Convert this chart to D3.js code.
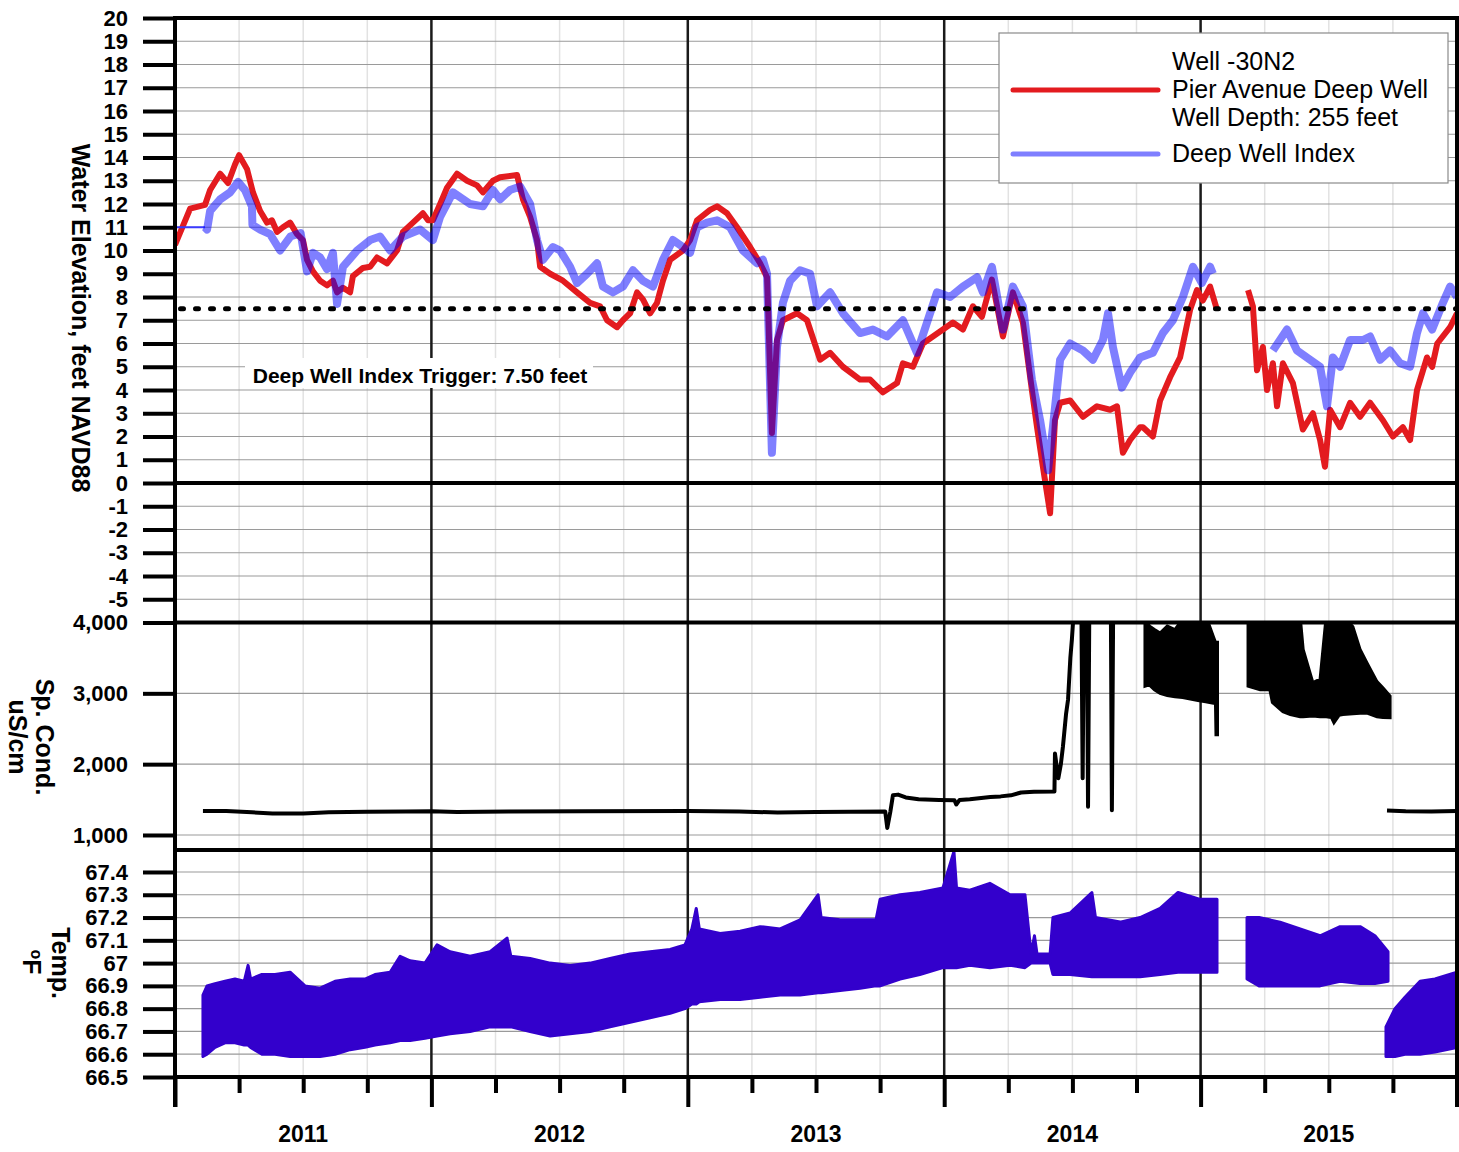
<!DOCTYPE html>
<html>
<head>
<meta charset="utf-8">
<script src="https://cdn.jsdelivr.net/npm/d3@7"></script>
<style>
  body { margin: 0; background: #fff; }
  svg { display: block; font-family: "Liberation Sans", Arial, sans-serif; }
</style>
</head>
<body>
<script>
// ---- data (decimal year, value) ----
const pierAvenue = [
  [2011.000, 10.24], [2011.059, 11.8], [2011.117, 11.96], [2011.137, 12.6], [2011.176, 13.3], [2011.207, 12.9],
  [2011.234, 13.7], [2011.250, 14.1], [2011.281, 13.5], [2011.304, 12.5], [2011.332, 11.7], [2011.359, 11.2],
  [2011.378, 11.3], [2011.398, 10.8], [2011.421, 11.0], [2011.449, 11.2], [2011.476, 10.7], [2011.499, 10.45],
  [2011.515, 9.6], [2011.538, 9.1], [2011.566, 8.7], [2011.593, 8.5], [2011.616, 8.7], [2011.632, 8.2],
  [2011.655, 8.4], [2011.683, 8.2], [2011.694, 8.9], [2011.733, 9.25], [2011.761, 9.3], [2011.788, 9.7],
  [2011.827, 9.45], [2011.866, 10.0], [2011.889, 10.8], [2011.928, 11.2], [2011.967, 11.6], [2011.987, 11.3],
  [2012.006, 11.3], [2012.034, 12.0], [2012.061, 12.7], [2012.100, 13.3], [2012.139, 13.0], [2012.178, 12.8],
  [2012.201, 12.5], [2012.240, 13.0], [2012.268, 13.15], [2012.334, 13.25], [2012.357, 12.2], [2012.385, 11.45],
  [2012.412, 10.45], [2012.424, 9.3], [2012.463, 9.0], [2012.513, 8.7], [2012.568, 8.2], [2012.619, 7.75],
  [2012.658, 7.6], [2012.685, 7.0], [2012.724, 6.7], [2012.747, 7.0], [2012.775, 7.3], [2012.802, 8.2],
  [2012.825, 7.9], [2012.853, 7.3], [2012.880, 7.75], [2012.903, 8.7], [2012.931, 9.6], [2012.981, 10.0],
  [2013.009, 10.45], [2013.036, 11.3], [2013.087, 11.75], [2013.114, 11.9], [2013.153, 11.6], [2013.192, 11.0],
  [2013.243, 10.15], [2013.282, 9.45], [2013.309, 8.85], [2013.313, 7.6], [2013.328, 2.15], [2013.348, 6.15],
  [2013.371, 7.0], [2013.426, 7.3], [2013.465, 7.0], [2013.516, 5.3], [2013.555, 5.6], [2013.605, 5.0],
  [2013.672, 4.45], [2013.711, 4.45], [2013.761, 3.9], [2013.816, 4.3], [2013.839, 5.15], [2013.878, 5.0],
  [2013.917, 6.0], [2013.956, 6.3], [2013.995, 6.6], [2014.034, 6.9], [2014.073, 6.6], [2014.112, 7.6],
  [2014.147, 7.15], [2014.186, 8.75], [2014.229, 6.3], [2014.268, 8.2], [2014.307, 6.9], [2014.342, 4.0],
  [2014.362, 2.4], [2014.385, 0.7], [2014.413, -1.3], [2014.432, 2.7], [2014.452, 3.45], [2014.491, 3.55],
  [2014.541, 2.85], [2014.596, 3.3], [2014.647, 3.15], [2014.674, 3.3], [2014.697, 1.3], [2014.725, 1.85],
  [2014.764, 2.4], [2014.775, 2.4], [2014.814, 2.0], [2014.842, 3.55], [2014.881, 4.55], [2014.920, 5.4],
  [2014.959, 7.45], [2014.986, 8.3], [2015.009, 7.85], [2015.037, 8.45], [2015.064, 7.45],
  null,
  [2015.185, 8.3], [2015.204, 7.6], [2015.220, 4.85], [2015.243, 5.85], [2015.259, 4.0], [2015.282, 5.15],
  [2015.298, 3.3], [2015.321, 5.15], [2015.360, 4.3], [2015.399, 2.3], [2015.438, 3.0], [2015.466, 1.85],
  [2015.485, 0.7], [2015.505, 3.15], [2015.544, 2.4], [2015.583, 3.45], [2015.622, 2.85], [2015.661, 3.45],
  [2015.711, 2.7], [2015.750, 2.0], [2015.789, 2.4], [2015.817, 1.85], [2015.844, 4.0], [2015.883, 5.4],
  [2015.903, 5.0], [2015.923, 6.0], [2015.973, 6.7], [2016.000, 7.3]
];

// first two points are the thin fill-in at the start of the record
const deepWellIndex = [
  [2011.000, 11.0], [2011.117, 11.0], [2011.125, 10.9], [2011.137, 11.7], [2011.176, 12.2], [2011.215, 12.5],
  [2011.246, 12.95], [2011.273, 12.6], [2011.300, 11.9], [2011.302, 11.1], [2011.332, 10.9], [2011.371, 10.7],
  [2011.410, 10.0], [2011.450, 10.6], [2011.490, 10.75], [2011.515, 9.1], [2011.538, 9.9], [2011.566, 9.7],
  [2011.593, 9.2], [2011.616, 9.9], [2011.632, 7.7], [2011.655, 9.3], [2011.710, 10.0], [2011.761, 10.45],
  [2011.800, 10.6], [2011.839, 10.0], [2011.889, 10.6], [2011.956, 10.9], [2012.006, 10.45], [2012.034, 11.45],
  [2012.084, 12.5], [2012.151, 12.0], [2012.201, 11.9], [2012.240, 12.6], [2012.268, 12.2], [2012.307, 12.6],
  [2012.346, 12.75], [2012.385, 12.0], [2012.412, 10.45], [2012.435, 9.6], [2012.474, 10.15], [2012.502, 10.0],
  [2012.541, 9.3], [2012.568, 8.6], [2012.607, 9.0], [2012.646, 9.45], [2012.669, 8.45], [2012.708, 8.2],
  [2012.747, 8.45], [2012.786, 9.15], [2012.825, 8.7], [2012.864, 8.45], [2012.903, 9.6], [2012.942, 10.45],
  [2012.981, 10.15], [2013.009, 9.9], [2013.036, 11.0], [2013.075, 11.2], [2013.114, 11.3], [2013.165, 11.0],
  [2013.215, 10.0], [2013.270, 9.45], [2013.293, 9.6], [2013.309, 9.0], [2013.328, 1.3], [2013.348, 5.85],
  [2013.371, 7.75], [2013.399, 8.7], [2013.438, 9.15], [2013.477, 9.0], [2013.504, 7.6], [2013.555, 8.2],
  [2013.605, 7.3], [2013.672, 6.45], [2013.722, 6.6], [2013.777, 6.3], [2013.839, 7.0], [2013.894, 5.6],
  [2013.933, 6.9], [2013.972, 8.2], [2014.023, 8.0], [2014.073, 8.45], [2014.128, 8.85], [2014.151, 8.2],
  [2014.186, 9.3], [2014.229, 6.6], [2014.268, 8.45], [2014.307, 7.6], [2014.342, 4.45], [2014.374, 2.7],
  [2014.405, 0.55], [2014.424, 2.4], [2014.452, 5.3], [2014.491, 6.0], [2014.541, 5.7], [2014.580, 5.3],
  [2014.619, 6.15], [2014.639, 7.3], [2014.658, 5.85], [2014.693, 4.1], [2014.725, 4.75], [2014.764, 5.4],
  [2014.814, 5.6], [2014.853, 6.45], [2014.892, 7.0], [2014.931, 8.0], [2014.970, 9.3], [2015.005, 8.6],
  [2015.037, 9.3], [2015.048, 9.0],
  null,
  [2015.282, 5.7], [2015.337, 6.6], [2015.376, 5.7], [2015.427, 5.3], [2015.466, 5.0], [2015.493, 3.3],
  [2015.516, 5.4], [2015.544, 5.0], [2015.583, 6.15], [2015.633, 6.15], [2015.661, 6.3], [2015.700, 5.3],
  [2015.739, 5.7], [2015.778, 5.15], [2015.817, 5.0], [2015.844, 6.45], [2015.867, 7.3], [2015.903, 6.6],
  [2015.945, 7.75], [2015.973, 8.45], [2016.000, 8.0]
];

const triggerLevel = 7.5;

// specific conductance, uS/cm
const condLine = [
  [2011.109, 1340], [2011.200, 1338], [2011.300, 1320], [2011.380, 1305], [2011.500, 1305], [2011.600, 1322],
  [2011.750, 1328], [2011.900, 1330], [2012.000, 1335], [2012.100, 1325], [2012.300, 1330], [2012.600, 1335],
  [2013.000, 1338], [2013.200, 1330], [2013.350, 1318], [2013.500, 1325], [2013.770, 1330], [2013.778, 1100],
  [2013.790, 1330], [2013.800, 1560], [2013.820, 1570], [2013.850, 1530], [2013.900, 1505], [2013.980, 1495],
  [2014.040, 1490], [2014.047, 1430], [2014.060, 1495], [2014.100, 1505], [2014.180, 1535], [2014.220, 1545],
  [2014.260, 1560], [2014.300, 1600], [2014.350, 1610], [2014.430, 1615], [2014.432, 2150], [2014.445, 1800],
  [2014.455, 2000], [2014.463, 2245], [2014.475, 2700], [2014.483, 2910], [2014.492, 3500], [2014.498, 3760],
  [2014.506, 4200], [2014.535, 4200], [2014.540, 1800], [2014.545, 4200], [2014.556, 4200], [2014.561, 1400],
  [2014.566, 4200], [2014.650, 4200], [2014.654, 1350], [2014.659, 4200], [2014.666, 4200],
  null,
  [2015.727, 1345], [2015.800, 1335], [2015.900, 1333], [2016.000, 1340]
];

// noisy stretches of conductance: [year, low, high]
const condBand = [
  [2014.783, 3100, 4100], [2014.800, 3120, 3950], [2014.820, 3050, 3900], [2014.842, 3000, 3850],
  [2014.870, 2970, 3950], [2014.900, 2950, 3900], [2014.930, 2940, 4050], [2014.960, 2920, 3950],
  [2014.990, 2900, 4100], [2015.020, 2880, 4100], [2015.050, 2860, 3800], [2015.058, 2860, 3720],
  [2015.060, 2415, 3720], [2015.066, 2415, 3720],
  null,
  [2015.185, 3100, 4100], [2015.232, 3050, 4100], [2015.270, 3050, 4100], [2015.280, 2870, 4100],
  [2015.321, 2740, 4100], [2015.350, 2700, 4100], [2015.388, 2670, 4100], [2015.400, 2670, 3620],
  [2015.438, 2680, 3150], [2015.466, 2670, 3200], [2015.490, 2670, 4100], [2015.510, 2660, 4100],
  [2015.520, 2585, 4100], [2015.540, 2690, 4100], [2015.555, 2700, 4100], [2015.594, 2710, 3940],
  [2015.622, 2720, 3620], [2015.649, 2720, 3430], [2015.688, 2670, 3165], [2015.711, 2660, 3080],
  [2015.739, 2655, 2960]
];

// water temperature range, deg F: [year, low, high]
const tempBand = [
  [2011.109, 66.59, 66.86], [2011.125, 66.60, 66.90], [2011.156, 66.63, 66.91], [2011.195, 66.65, 66.92],
  [2011.234, 66.65, 66.93], [2011.270, 66.64, 66.92], [2011.285, 66.64, 66.99], [2011.295, 66.63, 66.93],
  [2011.339, 66.60, 66.95], [2011.390, 66.60, 66.95], [2011.449, 66.59, 66.96], [2011.507, 66.59, 66.90],
  [2011.566, 66.59, 66.89], [2011.624, 66.60, 66.92], [2011.683, 66.62, 66.93], [2011.741, 66.63, 66.93],
  [2011.780, 66.64, 66.95], [2011.839, 66.65, 66.96], [2011.878, 66.66, 67.03], [2011.917, 66.66, 67.01],
  [2011.975, 66.67, 67.00], [2012.022, 66.68, 67.08], [2012.073, 66.69, 67.05], [2012.151, 66.70, 67.03],
  [2012.229, 66.72, 67.05], [2012.295, 66.72, 67.11], [2012.310, 66.72, 67.03], [2012.385, 66.70, 67.02],
  [2012.463, 66.68, 67.00], [2012.541, 66.69, 66.99], [2012.619, 66.70, 67.00], [2012.697, 66.72, 67.02],
  [2012.775, 66.74, 67.04], [2012.853, 66.76, 67.05], [2012.931, 66.78, 67.06], [2012.989, 66.80, 67.08],
  [2013.016, 66.82, 67.15], [2013.033, 66.82, 67.24], [2013.045, 66.83, 67.15], [2013.126, 66.84, 67.13],
  [2013.204, 66.84, 67.14], [2013.282, 66.85, 67.16], [2013.360, 66.86, 67.15], [2013.438, 66.86, 67.19],
  [2013.508, 66.87, 67.30], [2013.520, 66.87, 67.20], [2013.594, 66.88, 67.19], [2013.672, 66.89, 67.19],
  [2013.734, 66.90, 67.19], [2013.750, 66.90, 67.28], [2013.828, 66.93, 67.30], [2013.905, 66.95, 67.31],
  [2013.995, 66.98, 67.33], [2014.038, 66.98, 67.49], [2014.048, 66.98, 67.33], [2014.100, 66.99, 67.32],
  [2014.178, 66.98, 67.35], [2014.257, 66.99, 67.30], [2014.315, 66.98, 67.30], [2014.339, 67.00, 67.04],
  [2014.352, 67.00, 67.12], [2014.362, 67.00, 67.04], [2014.413, 67.00, 67.04], [2014.424, 66.95, 67.20],
  [2014.491, 66.95, 67.22], [2014.576, 66.94, 67.31], [2014.590, 66.94, 67.20], [2014.686, 66.94, 67.18],
  [2014.764, 66.94, 67.20], [2014.842, 66.95, 67.24], [2014.912, 66.96, 67.31], [2014.998, 66.96, 67.28],
  [2015.064, 66.96, 67.28],
  null,
  [2015.181, 66.93, 67.20], [2015.228, 66.90, 67.20], [2015.310, 66.90, 67.18], [2015.388, 66.90, 67.15],
  [2015.466, 66.90, 67.12], [2015.544, 66.92, 67.16], [2015.622, 66.91, 67.16], [2015.680, 66.91, 67.12],
  [2015.731, 66.92, 67.05],
  null,
  [2015.723, 66.59, 66.72], [2015.758, 66.59, 66.80], [2015.797, 66.60, 66.85], [2015.856, 66.60, 66.92],
  [2015.914, 66.61, 66.93], [2016.000, 66.63, 66.96]
];

const elevTicks = d3.range(-5, 21);
const condTicks = [1000, 2000, 3000, 4000];
const tempTicks = [66.5, 66.6, 66.7, 66.8, 66.9, 67, 67.1, 67.2, 67.3, 67.4];
const yearLabels = [2011, 2012, 2013, 2014, 2015];

// ---- layout ----
const W = 1459, H = 1152;
const plotLeft = 175, plotRight = 1457;
const plotTop = 18, elevBottom = 622.5, condBottom = 850, plotBottom = 1077;

const svg = d3.select("body").append("svg")
  .attr("width", W)
  .attr("height", H);
svg.append("rect").attr("width", W).attr("height", H).attr("fill", "#fff");

const x = d3.scaleLinear().domain([2011, 2016]).range([plotLeft, plotRight]);
const yElev = d3.scaleLinear().domain([-6, 20]).range([elevBottom, plotTop]);
const yCond = d3.scaleLinear().domain([788, 4000]).range([condBottom, elevBottom]);
const yTemp = d3.scaleLinear().domain([66.5, 67.5]).range([plotBottom, 849.2]);

const defs = svg.append("defs");
function clip(id, y0, y1) {
  defs.append("clipPath").attr("id", id)
    .append("rect").attr("x", plotLeft).attr("y", y0).attr("width", plotRight - plotLeft).attr("height", y1 - y0);
  return "url(#" + id + ")";
}
const clipElev = clip("clip-elev", plotTop, elevBottom);
const clipCond = clip("clip-cond", elevBottom, condBottom);
const clipTemp = clip("clip-temp", condBottom, plotBottom);

// ---- grid ----
const grid = svg.append("g");
const quarters = d3.range(2011, 2016.01, 0.25).filter(v => v % 1 !== 0);

grid.selectAll(".vq").data(quarters).enter().append("line")
  .attr("x1", d => x(d)).attr("x2", d => x(d))
  .attr("y1", plotTop).attr("y2", plotBottom)
  .attr("stroke", "#e2e2e2").attr("stroke-width", 1.5);

function hgrid(vals, y) {
  grid.selectAll(null).data(vals).enter().append("line")
    .attr("x1", plotLeft).attr("x2", plotRight)
    .attr("y1", d => y(d)).attr("y2", d => y(d))
    .attr("stroke", "#9a9a9a").attr("stroke-width", 1.2);
}
hgrid(elevTicks.filter(v => v !== 0 && v !== 20), yElev);
hgrid([1000, 2000, 3000], yCond);
hgrid(tempTicks.filter(v => v !== 66.5), yTemp);

// year lines run through the plot and down as long ticks
grid.selectAll(".vy").data([2012, 2013, 2014, 2015]).enter().append("line")
  .attr("x1", d => x(d)).attr("x2", d => x(d))
  .attr("y1", plotTop).attr("y2", plotBottom)
  .attr("stroke", "#1a1a1a").attr("stroke-width", 2.5);

// ---- series ----
const elevLine = d3.line().defined(d => d).x(d => x(d[0])).y(d => yElev(d[1]));

svg.append("path")
  .datum(pierAvenue)
  .attr("clip-path", clipElev)
  .attr("d", elevLine)
  .attr("fill", "none")
  .attr("stroke", "#e31b1f")
  .attr("stroke-width", 6)
  .attr("stroke-linejoin", "round");

svg.append("path")
  .datum(deepWellIndex.slice(0, 2))
  .attr("clip-path", clipElev)
  .attr("d", elevLine)
  .attr("fill", "none")
  .attr("stroke", "#3a3aff")
  .attr("stroke-width", 2);

svg.append("path")
  .datum(deepWellIndex.slice(1))
  .attr("clip-path", clipElev)
  .attr("d", elevLine)
  .attr("fill", "none")
  .attr("stroke", "#0000ff")
  .attr("stroke-opacity", 0.5)
  .attr("stroke-width", 8)
  .attr("stroke-linejoin", "round");

// trigger level
svg.append("line")
  .attr("x1", plotLeft).attr("x2", plotRight)
  .attr("y1", yElev(triggerLevel)).attr("y2", yElev(triggerLevel))
  .attr("stroke", "#000").attr("stroke-width", 5)
  .attr("stroke-linecap", "round")
  .attr("stroke-dasharray", "3 12")
  .attr("stroke-dashoffset", -5.5);

const condArea = d3.area().defined(d => d)
  .x(d => x(d[0])).y0(d => yCond(d[1])).y1(d => yCond(d[2]));
svg.append("path")
  .datum(condBand)
  .attr("clip-path", clipCond)
  .attr("d", condArea)
  .attr("fill", "#000")
  .attr("stroke", "#000").attr("stroke-width", 3);

svg.append("path")
  .datum(condLine)
  .attr("clip-path", clipCond)
  .attr("d", d3.line().defined(d => d).x(d => x(d[0])).y(d => yCond(d[1])))
  .attr("fill", "none")
  .attr("stroke", "#000")
  .attr("stroke-width", 4)
  .attr("stroke-linejoin", "round");

svg.append("path")
  .datum(tempBand)
  .attr("clip-path", clipTemp)
  .attr("d", d3.area().defined(d => d).x(d => x(d[0])).y0(d => yTemp(d[1])).y1(d => yTemp(d[2])))
  .attr("fill", "#3300cc")
  .attr("stroke", "#3300cc").attr("stroke-width", 3)
  .attr("stroke-linejoin", "round");

// ---- frame ----
const frame = svg.append("g").attr("stroke", "#000").attr("stroke-width", 4);
[plotTop, yElev(0), elevBottom, condBottom, plotBottom].forEach(y => {
  frame.append("line").attr("x1", plotLeft).attr("x2", plotRight).attr("y1", y).attr("y2", y);
});
frame.append("line").attr("x1", plotLeft).attr("x2", plotLeft).attr("y1", plotTop - 2).attr("y2", 1107);
frame.append("line").attr("x1", plotRight).attr("x2", plotRight).attr("y1", plotTop - 2).attr("y2", 1107);

// ---- axes ----
function styleAxis(g) {
  g.select(".domain").remove();
  g.selectAll(".tick line").attr("stroke", "#000").attr("stroke-width", 4);
  g.selectAll(".tick text")
    .attr("fill", "#000")
    .style("font-family", "'Liberation Sans', Arial, sans-serif")
    .style("font-size", "22px")
    .style("font-weight", "bold");
}
svg.append("g").attr("transform", `translate(${plotLeft},0)`)
  .call(d3.axisLeft(yElev).tickValues(elevTicks).tickSize(32).tickPadding(15).tickFormat(d => String(d)))
  .call(styleAxis);
svg.append("g").attr("transform", `translate(${plotLeft},0)`)
  .call(d3.axisLeft(yCond).tickValues(condTicks).tickSize(32).tickPadding(15).tickFormat(d3.format(",")))
  .call(styleAxis);
svg.append("g").attr("transform", `translate(${plotLeft},0)`)
  .call(d3.axisLeft(yTemp).tickValues(tempTicks).tickSize(32).tickPadding(15).tickFormat(d => String(+d.toFixed(1))))
  .call(styleAxis);

svg.append("g").attr("transform", `translate(0,${plotBottom})`)
  .call(d3.axisBottom(x).tickValues(quarters).tickSize(16).tickFormat(""))
  .call(styleAxis);
svg.append("g").attr("transform", `translate(0,${plotBottom})`)
  .call(d3.axisBottom(x).tickValues([2011, 2012, 2013, 2014, 2015, 2016]).tickSize(30).tickFormat(""))
  .call(styleAxis);

svg.selectAll(".year").data(yearLabels).enter().append("text")
  .attr("x", d => x(d + 0.5))
  .attr("y", 1142)
  .attr("text-anchor", "middle")
  .attr("font-size", 23)
  .attr("font-weight", "bold")
  .text(d => d);

// axis titles
function vtitle(tx, ty, str) {
  return svg.append("text")
    .attr("transform", `translate(${tx},${ty}) rotate(90)`)
    .attr("text-anchor", "middle")
    .attr("font-size", 25)
    .attr("font-weight", "bold")
    .text(str);
}
vtitle(72, 318, "Water Elevation, feet NAVD88");
vtitle(36, 737, "Sp. Cond.");
vtitle(9, 737, "uS/cm");
vtitle(52, 963, "Temp.");
const degF = svg.append("text")
  .attr("transform", "translate(23,962) rotate(90)")
  .attr("text-anchor", "middle")
  .attr("font-size", 25)
  .attr("font-weight", "bold");
degF.append("tspan").attr("font-size", 16).attr("dy", -8).text("o");
degF.append("tspan").attr("dy", 8).text("F");

// trigger label
svg.append("rect")
  .attr("x", 245).attr("y", 358).attr("width", 348).attr("height", 30)
  .attr("fill", "#fff");
svg.append("text")
  .attr("x", 420).attr("y", 383)
  .attr("text-anchor", "middle")
  .attr("font-size", 21)
  .attr("font-weight", "bold")
  .text("Deep Well Index Trigger: " + triggerLevel.toFixed(2) + " feet");

// ---- legend ----
const legend = svg.append("g").attr("transform", "translate(999,33)");
legend.append("rect")
  .attr("width", 449).attr("height", 150)
  .attr("fill", "#fff").attr("stroke", "#8a8a8a").attr("stroke-width", 1.2);
legend.append("line")
  .attr("x1", 14).attr("x2", 159).attr("y1", 57).attr("y2", 57)
  .attr("stroke", "#e31b1f").attr("stroke-width", 5).attr("stroke-linecap", "round");
legend.append("line")
  .attr("x1", 14).attr("x2", 159).attr("y1", 121).attr("y2", 121)
  .attr("stroke", "#0000ff").attr("stroke-opacity", 0.5).attr("stroke-width", 5).attr("stroke-linecap", "round");
const legendText = [
  ["Well -30N2", 37], ["Pier Avenue Deep Well", 65], ["Well Depth: 255 feet", 93], ["Deep Well Index", 129]
];
legend.selectAll("text.lt").data(legendText).enter().append("text")
  .attr("x", 173)
  .attr("y", d => d[1])
  .attr("font-size", 25)
  .text(d => d[0]);
</script>
</body>
</html>
